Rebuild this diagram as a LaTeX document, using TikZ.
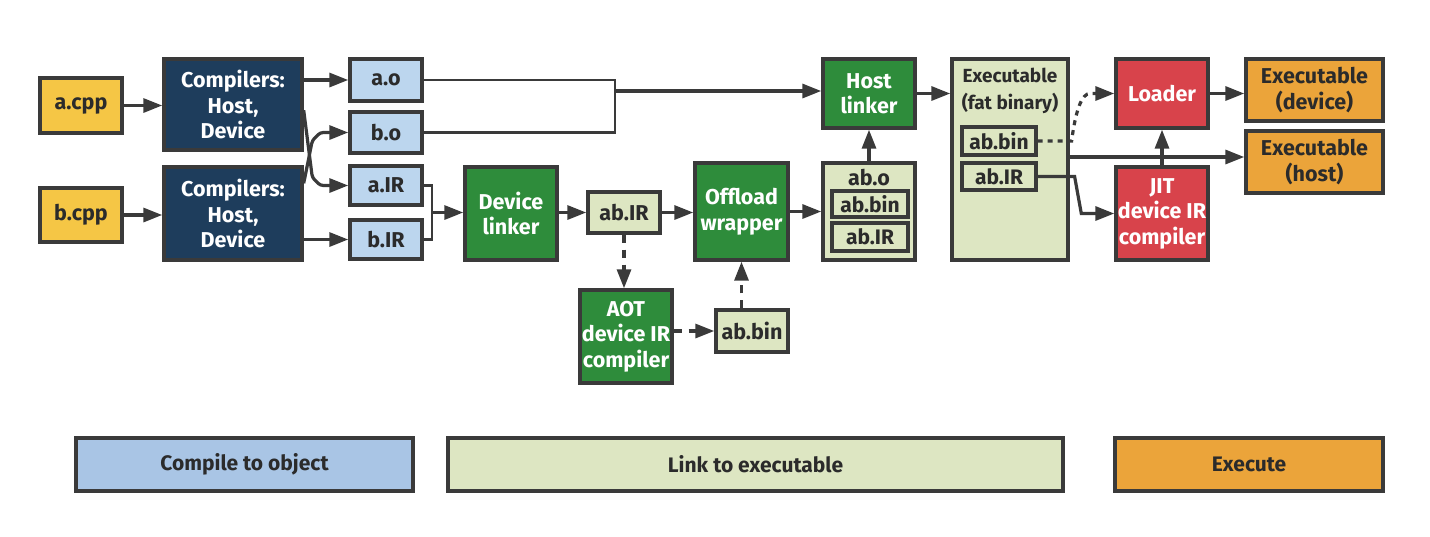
\documentclass[tikz,border=0pt]{standalone}
\usepackage{fontspec}
\setmainfont{Fira Sans}
\usetikzlibrary{arrows.meta,calc}
\definecolor{cyellow}{HTML}{F5C645}
\definecolor{cnavy}{HTML}{1E3D5C}
\definecolor{clblue}{HTML}{BCD6EE}
\definecolor{cgreen}{HTML}{2E8C3B}
\definecolor{clgreen}{HTML}{DDE6C2}
\definecolor{cred}{HTML}{D8434B}
\definecolor{corange}{HTML}{EBA43A}
\definecolor{cbarblue}{HTML}{A9C5E5}
\definecolor{cborder}{HTML}{3A3A3A}
\definecolor{ctext}{HTML}{2B2B2B}
\tikzset{
  box/.style={draw=cborder, line width=3.4pt, inner sep=0pt, align=center,
    font=\fontsize{21.5}{25.5}\selectfont\bfseries, text=ctext},
  darkbox/.style={box, text=white},
  inbox/.style={draw=cborder, line width=3.2pt, inner sep=0pt, fill=clgreen,
    font=\fontsize{21}{22}\selectfont\bfseries, text=ctext},
  bar/.style={draw=cborder, line width=3.4pt, inner sep=0pt,
    font=\fontsize{21}{24}\selectfont\bfseries, text=ctext, minimum height=53},
  arr/.style={draw=cborder, line width=3.2pt, -{Triangle[length=19pt,width=14pt]}},
  thinline/.style={draw=cborder, line width=2.4pt},
  dsh/.style={arr, dash pattern=on 8pt off 7pt},
  dotl/.style={arr, dash pattern=on 5pt off 5pt}
}
\begin{document}
\begin{tikzpicture}[x=1pt,y=-1pt]
\useasboundingbox (0,0) rectangle (1430,536);
% compile stage
\node[box, fill=cyellow, minimum width=82, minimum height=55] (acpp) at (81,105.5) {a.cpp};
\node[box, fill=cyellow, minimum width=82, minimum height=54] (bcpp) at (81,215) {b.cpp};
\node[darkbox, fill=cnavy, minimum width=138, minimum height=91] (comp1) at (233,104.5) {Compilers:\\Host,\\Device};
\node[darkbox, fill=cnavy, minimum width=138, minimum height=93] (comp2) at (233,213.5) {Compilers:\\Host,\\Device};
\node[box, fill=clblue, minimum width=72, minimum height=42] (ao) at (386,80) {a.o};
\node[box, fill=clblue, minimum width=72, minimum height=41] (bo) at (386,132.5) {b.o};
\node[box, fill=clblue, minimum width=72, minimum height=39] (aIR) at (386,185.5) {a.IR};
\node[box, fill=clblue, minimum width=72, minimum height=39] (bIR) at (386,239.5) {b.IR};
% link stage
\node[darkbox, fill=cgreen, minimum width=92, minimum height=93] (devlink) at (511,213.5) {Device\\linker};
\node[box, fill=clgreen, minimum width=72, minimum height=41] (abIR) at (624,212.5) {ab.IR};
\node[darkbox, fill=cgreen, minimum width=93, minimum height=97] (offload) at (741.5,211.5) {Offload\\wrapper};
\node[box, fill=clgreen, minimum width=92, minimum height=97] (abo) at (869,211.5) {};
\node[font=\fontsize{21.5}{22}\selectfont\bfseries, text=ctext, inner sep=0pt] (abot) at (869,178) {ab.o};
\node[inbox, minimum width=76, minimum height=26] (abobin) at (870,204) {ab.bin};
\node[inbox, minimum width=76, minimum height=28] (aboIR) at (870,237) {ab.IR};
\node[darkbox, fill=cgreen, minimum width=92, minimum height=69] (hostlink) at (869,93.5) {Host\\linker};
\node[darkbox, fill=cgreen, minimum width=92, minimum height=93] (aot) at (626,336.5) {AOT\\device IR\\compiler};
\node[box, fill=clgreen, minimum width=72, minimum height=42] (abbin) at (752,331) {ab.bin};
\node[box, fill=clgreen, minimum width=116, minimum height=201] (fat) at (1010,159.5) {};
\node[font=\fontsize{19}{27}\selectfont\bfseries, text=ctext, align=center, inner sep=0pt] (fatt) at (1010,91) {Executable\\(fat binary)};
\node[inbox, minimum width=74, minimum height=28] (fbin) at (999,141) {ab.bin};
\node[inbox, minimum width=74, minimum height=27] (fIR) at (999,176.5) {ab.IR};
% execute stage
\node[darkbox, fill=cred, minimum width=92, minimum height=69] (loader) at (1162,93.5) {Loader};
\node[darkbox, fill=cred, minimum width=92, minimum height=93] (jit) at (1162,213.5) {JIT\\device IR\\compiler};
\node[box, fill=corange, minimum width=137, minimum height=62] (exdev) at (1314.5,90) {Executable\\(device)};
\node[box, fill=corange, minimum width=137, minimum height=62] (exhost) at (1314.5,162) {Executable\\(host)};
% bars
\node[bar, fill=cbarblue, minimum width=337] (b1) at (244.5,464.5) {Compile to object};
\node[bar, fill=clgreen, minimum width=615] (b2) at (755.5,464.5) {Link to executable};
\node[bar, fill=corange, minimum width=268] (b3) at (1249,464.5) {Execute};
% connectors: compile
\draw[arr] (acpp.east) -- (acpp.east -| comp1.west);
\draw[arr] (bcpp.east) -- (bcpp.east -| comp2.west);
\draw[arr] (comp1.east |- ao.west) -- (ao.west);
\draw[arr] (comp2.east |- bIR.west) -- (bIR.west);
\draw[arr, rounded corners=3pt] ($(comp1.north east)+(0,53)$) -- ($(aIR.west)+(-36,-8)$) -- ($(aIR.west)+(-28,0)$) -- (aIR.west);
\draw[arr, rounded corners=3pt] ($(comp2.north east)+(0,18)$) -- ($(bo.west)+(-36,8)$) -- ($(bo.west)+(-28,0)$) -- (bo.west);
% a.o / b.o to host linker
\coordinate (j) at (615,91);
\draw[thinline] (ao.east) -- (ao.east -| j) -- (bo.east -| j) -- (bo.east);
\draw[arr] (j) -- (j -| hostlink.west);
% a.IR / b.IR to device linker
\coordinate (k) at (432,212.5);
\draw[thinline] (aIR.east) -- (aIR.east -| k) -- (bIR.east -| k) -- (bIR.east);
\draw[arr] (k) -- (k -| devlink.west);
% link chain
\draw[arr] (devlink.east |- abIR.west) -- (abIR.west);
\draw[arr] (abIR.east) -- (abIR.east -| offload.west);
\draw[arr] (offload.east) -- (offload.east -| abo.west);
\draw[arr] (abo.north) -- (abo.north |- hostlink.south);
\draw[dsh] (abIR.south) -- (abIR.south |- aot.north);
\draw[dsh] (abbin.west -| aot.east) -- (abbin.west);
\draw[dsh] (offload.south |- abbin.north) -- (offload.south);
\draw[arr] (hostlink.east) -- (hostlink.east -| fat.west);
% execute
\draw[arr] (loader.east) -- (loader.east -| exdev.west);
\draw[dotl] (fbin.east) -- ($(fbin.east)+(34,0)$) .. controls ($(fbin.east)+(38,-30)$) and ($(fbin.east)+(44,-48)$) .. ($(loader.west)+(-24,0)$) -- (loader.west);
\coordinate (h) at ($(fat.east)+(0,-2.5)$);
\draw[arr] (h) -- (h -| exhost.west);
\draw[arr] (jit.north) -- (loader.south);
\draw[arr] (fIR.east) -- ($(fIR.east)+(37,0)$) -- ($(jit.west)+(-33,0)$) -- (jit.west);
\end{tikzpicture}
\end{document}
